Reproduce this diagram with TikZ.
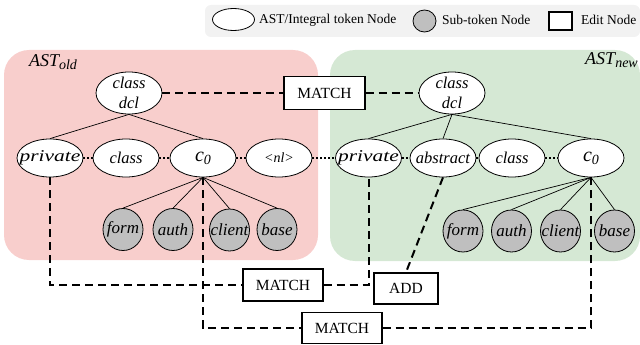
\documentclass[tikz,border=0pt]{standalone}
\usepackage{fontspec}
\setmainfont{Liberation Serif}
\usepackage{graphicx}
\usetikzlibrary{shapes.geometric}
\definecolor{pinkbg}{RGB}{248,206,204}
\definecolor{greenbg}{RGB}{213,232,212}
\definecolor{legbg}{RGB}{242,242,242}
\definecolor{subgray}{RGB}{191,191,191}
\tikzset{
 tn/.style={ellipse, draw=black, fill=white, line width=0.8pt, minimum width=66pt, minimum height=38pt, inner sep=0pt},
 tt/.style={font=\fontsize{16.5}{20}\selectfont\itshape, inner sep=0pt},
 sn/.style={ellipse, draw=black, fill=subgray, line width=0.8pt, minimum width=40pt, minimum height=42pt, inner sep=0pt},
 stt/.style={font=\fontsize{17}{20}\selectfont\itshape, inner sep=0pt},
 eb/.style={rectangle, draw=black, fill=white, line width=1.4pt, minimum width=80pt, minimum height=32pt, inner sep=0pt, font=\fontsize{15.5}{18}\selectfont},
 tedge/.style={line width=0.7pt},
 dotl/.style={line width=2pt, dash pattern=on 2pt off 2pt},
 dashl/.style={line width=2pt, dash pattern=on 8pt off 5pt},
 legt/.style={anchor=west, inner sep=0pt, font=\fontsize{13.5}{16}\selectfont},
 asttxt/.style={inner sep=0pt, font=\fontsize{18}{20}\selectfont\itshape},
}
\newcommand{\czero}{{\fontsize{20}{20}\selectfont c\raisebox{-3pt}{\fontsize{14}{14}\selectfont 0}}}
\begin{document}
\begin{tikzpicture}[x=1pt, y=-1pt]
\useasboundingbox (0,0) rectangle (640,345);
% legend
\fill[legbg, rounded corners=6pt] (205,5) rectangle (640,37);
\node[ellipse, draw, fill=white, line width=0.8pt, minimum width=42pt, minimum height=22pt, inner sep=0pt] (lgE) at (233.5,19.5) {};
\node[legt] (lgEt) at (259,20) {AST/Integral token Node};
\node[ellipse, draw, fill=subgray, line width=0.8pt, minimum width=23pt, minimum height=22pt, inner sep=0pt] (lgS) at (424.5,21) {};
\node[legt] (lgSt) at (442,20) {Sub-token Node};
\node[rectangle, draw, fill=white, line width=1.3pt, minimum width=23pt, minimum height=18pt, inner sep=0pt] (lgB) at (560.5,21) {};
\node[legt] (lgBt) at (581,20) {Edit Node};
% regions
\fill[pinkbg, rounded corners=25pt] (4,50) rectangle (318,260);
\fill[greenbg, rounded corners=25pt] (330,50) rectangle (640,261);
\node[asttxt] (astold) at (53,62) {AST\raisebox{-3.5pt}{\fontsize{14}{14}\selectfont old}};
\node[asttxt, anchor=east] (astnew) at (638,60) {AST\raisebox{-3.5pt}{\fontsize{14}{14}\selectfont new}};
% old tree
\node[tn, minimum height=42pt, label={[tt,align=center]center:{class\\dcl}}] (lcd) at (129,93) {};
\node[tn, label={[tt]center:{\scalebox{1.3}[1]{private}}}] (lp) at (50,158) {};
\node[tn, label={[tt]center:{class}}] (lcl) at (126,158) {};
\node[tn, label={[tt]center:{\czero}}] (lc0) at (203,158) {};
\node[tn, label={[tt,font=\fontsize{14}{16}\selectfont\itshape]center:{\textless nl\textgreater}}] (lnl) at (279,158) {};
\node[sn, label={[stt]center:{form}}] (lf) at (123,229.5) {};
\node[sn, label={[stt]center:{auth}}] (la) at (173,229.5) {};
\node[sn, label={[stt]center:{client}}] (lcli) at (229.5,230) {};
\node[sn, label={[stt]center:{base}}] (lb) at (277,229.5) {};
% new tree
\node[tn, minimum height=42pt, label={[tt,align=center]center:{class\\dcl}}] (rcd) at (452,93) {};
\node[tn, label={[tt]center:{\scalebox{1.3}[1]{private}}}] (rp) at (368.5,158) {};
\node[tn, label={[tt]center:{abstract}}] (ra) at (443,158) {};
\node[tn, label={[tt]center:{class}}] (rcl) at (512,158) {};
\node[tn, label={[tt]center:{\czero}}] (rc0) at (591,158) {};
\node[sn, label={[stt]center:{form}}] (rf) at (463,231) {};
\node[sn, label={[stt]center:{auth}}] (rau) at (511.5,231) {};
\node[sn, label={[stt]center:{client}}] (rcli) at (560.5,231) {};
\node[sn, label={[stt]center:{base}}] (rb) at (614.5,231) {};
% edit nodes
\node[eb, minimum width=81pt, minimum height=33pt] (m0) at (324.5,93) {MATCH};
\node[eb] (m1) at (283,285) {MATCH};
\node[eb, minimum width=64pt, minimum height=31pt] (add) at (406,288.5) {ADD};
\node[eb, minimum height=31pt] (m2) at (342,328) {MATCH};
% tree edges
\draw[tedge] (lcd.south) -- (lp.north);
\draw[tedge] (lcd.south) -- (lc0.north);
\draw[tedge] (rcd.south) -- (rp.north);
\draw[tedge] (rcd.south) -- (ra.north);
\draw[tedge] (rcd.south) -- (rc0.north);
\foreach \t in {lf,la,lcli,lb} \draw[tedge] (lc0.south) -- (\t.north);
\foreach \t in {rf,rau,rcli,rb} \draw[tedge] (rc0.south) -- (\t.north);
% sibling dotted
\draw[dotl] (lp.east) -- (lcl.west);
\draw[dotl] (lcl.east) -- (lc0.west);
\draw[dotl] (lc0.east) -- (lnl.west);
\draw[dotl] (lnl.east) -- (rp.west);
\draw[dotl] (rp.east) -- (ra.west);
\draw[dotl] (ra.east) -- (rcl.west);
\draw[dotl] (rcl.east) -- (rc0.west);
% edit connectors
\draw[dashl] (lcd.east) -- (m0.west);
\draw[dashl] (m0.east) -- (rcd.west);
\draw[dashl] (lp.south) |- (m1.west);
\draw[dashl] (m1.east) -| (rp.south);
\draw[dashl] (ra.south) -- (add.north);
\draw[dashl] (lc0.south) |- (m2.west);
\draw[dashl] (m2.east) -| (rc0.south);
\end{tikzpicture}
\end{document}
